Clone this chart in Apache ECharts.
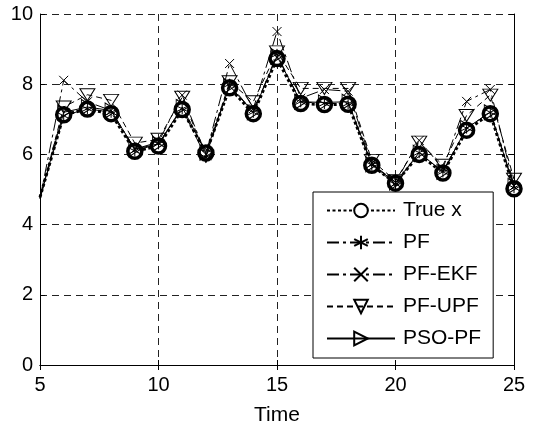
<!DOCTYPE html>
<html>
<head>
<meta charset="utf-8">
<script src="https://cdn.jsdelivr.net/npm/echarts@6/dist/echarts.min.js"></script>
<style>
  html, body { margin: 0; padding: 0; background: #fff; }
  #chart { width: 533px; height: 427px; }
</style>
</head>
<body>
<div id="chart"></div>
<script>
// data
const timeSteps = [5, 6, 7, 8, 9, 10, 11, 12, 13, 14, 15, 16, 17, 18, 19, 20, 21, 22, 23, 24, 25]
const trueX  = [4.78, 7.13, 7.29, 7.16, 6.09, 6.24, 7.28, 6.04, 7.90, 7.16, 8.73, 7.45, 7.42, 7.43, 5.69, 5.18, 6.00, 5.47, 6.69, 7.16, 5.02]
const pf     = [4.75, 7.10, 7.30, 7.20, 6.10, 6.30, 7.30, 5.92, 8.00, 7.20, 8.85, 7.50, 7.45, 7.45, 5.70, 5.15, 6.05, 5.50, 6.75, 7.20, 5.05]
const pfEkf  = [4.75, 8.11, 7.50, 7.25, 6.15, 6.35, 7.69, 6.00, 8.59, 7.30, 9.50, 7.60, 7.85, 7.80, 5.75, 5.20, 6.40, 5.60, 7.51, 7.85, 5.10]
const pfUpf  = [4.75, 7.35, 7.70, 7.54, 6.32, 6.43, 7.63, 5.95, 8.07, 7.50, 8.92, 7.88, 7.88, 7.88, 5.83, 5.25, 6.35, 5.69, 7.11, 7.69, 5.29]
const psoPf  = [4.75, 7.20, 7.35, 7.25, 6.15, 6.30, 7.35, 6.05, 7.95, 7.20, 8.80, 7.50, 7.48, 7.50, 5.72, 5.20, 6.05, 5.50, 6.75, 7.20, 5.10]
const seriesNames = ['True x', 'PF', 'PF-EKF', 'PF-UPF', 'PSO-PF']
const xTicks = [5, 25, 5]   // min, max, step
const yTicks = [0, 10, 2]

const FONT = 'Liberation Sans'

// first point sits on the left edge and has no marker in the original
function pairs(vals) {
    return timeSteps.map((t, i) => {
        if (i == 0) return { value: [t, vals[i]], symbol: 'none' }
        return [t, vals[i]]
    })
}

const asterisk = 'path://M5,0L5,10M0.7,2.5L9.3,7.5M9.3,2.5L0.7,7.5'
const cross = 'path://M0,0L10,10M10,0L0,10'
const triDown = 'path://M0,0L10,0L5,8.5Z'
const triRight = 'path://M0,0L8.5,5L0,10Z'

function thinSeries(name, vals, symbol, size, dash) {
    return {
        name: name,
        type: 'line',
        data: pairs(vals),
        symbol: symbol,
        symbolSize: size,
        showAllSymbol: true,
        z: 3,
        lineStyle: { color: '#000', width: 1, type: dash },
        itemStyle: { color: 'transparent', borderColor: '#000', borderWidth: 1 }
    }
}

let chart = echarts.init(document.getElementById('chart'))

const hiddenAxis = {
    axisLine: { show: true, lineStyle: { color: '#000', width: 1 } },
    axisTick: { show: true, inside: true, length: 5, lineStyle: { color: '#000' } },
    axisLabel: { show: false },
    splitLine: { show: false }
}

option = {
    animation: false,
    backgroundColor: '#fff',
    grid: { left: 40, right: 19, top: 14, bottom: 62, outerBoundsMode: 'none' },
    xAxis: [
        {
            type: 'value',
            min: xTicks[0], max: xTicks[1], interval: xTicks[2],
            name: 'Time',
            nameLocation: 'middle',
            nameGap: 40,
            nameTextStyle: { fontFamily: FONT, fontSize: 21, color: '#000' },
            axisLine: { show: true, onZero: false, lineStyle: { color: '#000', width: 1 } },
            axisTick: { show: true, inside: true, length: 5, lineStyle: { color: '#000' } },
            axisLabel: { fontFamily: FONT, fontSize: 20, color: '#000', margin: 10 },
            splitLine: { show: true, lineStyle: { color: '#222', width: 1, type: [7, 5] } }
        },
        Object.assign({ type: 'value', position: 'top', min: xTicks[0], max: xTicks[1], interval: xTicks[2] }, hiddenAxis)
    ],
    yAxis: [
        {
            type: 'value',
            min: yTicks[0], max: yTicks[1], interval: yTicks[2],
            axisLine: { show: true, onZero: false, lineStyle: { color: '#000', width: 1 } },
            axisTick: { show: true, inside: true, length: 5, lineStyle: { color: '#000' } },
            axisLabel: { fontFamily: FONT, fontSize: 20, color: '#000', margin: 7 },
            splitLine: { show: true, lineStyle: { color: '#222', width: 1, type: [7, 5] } }
        },
        Object.assign({ type: 'value', position: 'right', min: yTicks[0], max: yTicks[1], interval: yTicks[2] }, hiddenAxis)
    ],
    legend: {
        data: seriesNames,
        orient: 'vertical',
        left: 313,
        top: 192,
        padding: [8, 12, 9, 13],
        itemWidth: 68,
        itemHeight: 17,
        itemGap: 11,
        backgroundColor: '#fff',
        borderColor: '#000',
        borderWidth: 1,
        borderRadius: 0,
        textStyle: { fontFamily: FONT, fontSize: 21, lineHeight: 21, color: '#000', padding: [0, 0, 0, 3] }
    },
    series: [
        {
            name: seriesNames[0],
            type: 'line',
            data: pairs(trueX),
            symbol: 'circle',
            symbolSize: 14,
            showAllSymbol: true,
            z: 2,
            lineStyle: { color: '#000', width: 3, type: [3, 2.5] },
            itemStyle: { color: '#fff', borderColor: '#000', borderWidth: 3.5 }
        },
        thinSeries(seriesNames[1], pf, asterisk, 11, [12, 4, 3, 4]),
        thinSeries(seriesNames[2], pfEkf, cross, 9, [12, 4, 3, 4]),
        thinSeries(seriesNames[3], pfUpf, triDown, [15, 12], [6, 4]),
        thinSeries(seriesNames[4], psoPf, triRight, [12, 15], 'solid')
    ]
}
chart.setOption(option)
</script>
</body>
</html>
